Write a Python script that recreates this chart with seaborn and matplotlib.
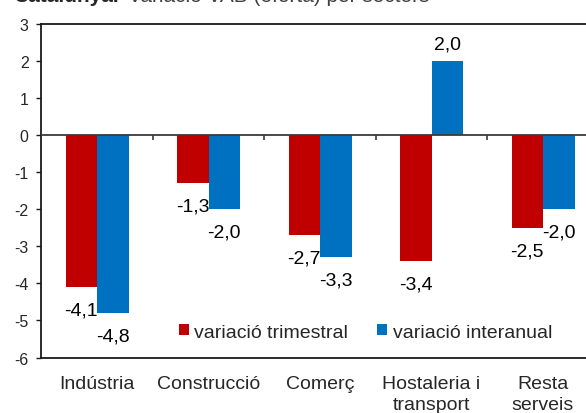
#!/usr/bin/env python3
# coding: utf-8

import pandas as pd
import matplotlib
matplotlib.use("Agg")
import matplotlib.pyplot as plt
import seaborn as sns

# data
sectors = ["Indústria", "Construcció", "Comerç", "Hostaleria i\ntransport", "Resta\nserveis"]
series_names = ["variació trimestral", "variació interanual"]
var_trimestral = [-4.1, -1.3, -2.7, -3.4, -2.5]
var_interanual = [-4.8, -2.0, -3.3, 2.0, -2.0]
y_ticks = [-6, -5, -4, -3, -2, -1, 0, 1, 2, 3]

palette = {"variació trimestral": "#C00000", "variació interanual": "#0070C0"}

sns.set_style("white")
plt.rcParams["font.family"] = ["Liberation Sans", "DejaVu Sans"]
plt.rcParams["axes.unicode_minus"] = False

df = pd.DataFrame({
    "sector": sectors * 2,
    "serie": [series_names[0]] * len(sectors) + [series_names[1]] * len(sectors),
    "valor": var_trimestral + var_interanual,
})

fig = plt.figure(figsize=(5.86, 4.14), dpi=100)
# plot area runs past the right edge, as in the source image
ax = fig.add_axes([0.0704, 0.134, 0.9514, 0.8056])

sns.barplot(data=df, x="sector", y="valor", hue="serie", order=sectors,
            hue_order=series_names, palette=palette, width=0.565, gap=0,
            saturation=1, edgecolor="none", ax=ax)

ax.set_xlim(-0.5, 4.5)
ax.set_ylim(-6, 3)
ax.set_yticks(y_ticks)
ax.set_xlabel("")
ax.set_ylabel("")

for s in ["left", "top", "bottom"]:
    ax.spines[s].set_visible(True)
    ax.spines[s].set_color("#1a1a1a")
    ax.spines[s].set_linewidth(1.3)
ax.spines["right"].set_visible(False)

ax.tick_params(axis="y", direction="out", length=3.6, width=1, pad=5.5,
               labelsize=11.5, left=True, color="#1a1a1a")
ax.tick_params(axis="x", length=0, pad=12.3, labelsize=14)
for lab in ax.get_xticklabels():
    lab.set_verticalalignment("top")
    lab.set_multialignment("center")
    lab.set_linespacing(1.3)

# zero line with small ticks between categories
ax.axhline(0, color="#3a3a3a", lw=1.3, zorder=3)
sec = ax.secondary_xaxis(6 / 9)
sec.set_xticks([0.5, 1.5, 2.5, 3.5])
sec.set_xticklabels([])
sec.xaxis.set_ticks_position("bottom")
sec.tick_params(direction="out", length=3.6, width=1.2, color="#3a3a3a")
for s in sec.spines.values():
    s.set_visible(False)

# value labels
for cont in ax.containers:
    for p in cont:
        v = p.get_height()
        xc = p.get_x() + p.get_width() / 2
        off = 12 if v > 0 else -16.5
        ax.annotate(f"{v:.1f}".replace(".", ","), (xc, v), xytext=(0, off),
                    textcoords="offset points", ha="center", va="center",
                    fontsize=14, color="black")

ax.legend(loc="center", bbox_to_anchor=(0.5816, 0.0765), ncol=2, frameon=False,
          fontsize=14, handlelength=0.52, handleheight=0.55, handletextpad=0.28,
          columnspacing=1.5, borderaxespad=0)

# title, clipped at the top like the source picture
fig.text(13 / 586, 1 - 2.5 / 414, "Catalunya.", fontsize=15, fontweight="bold",
         va="baseline", ha="left")
fig.text(128 / 586, 1 - 2.5 / 414, "Variació VAB (oferta) per sectors", fontsize=15,
         color="#404040", va="baseline", ha="left")

fig.savefig("out.png", dpi=100)
